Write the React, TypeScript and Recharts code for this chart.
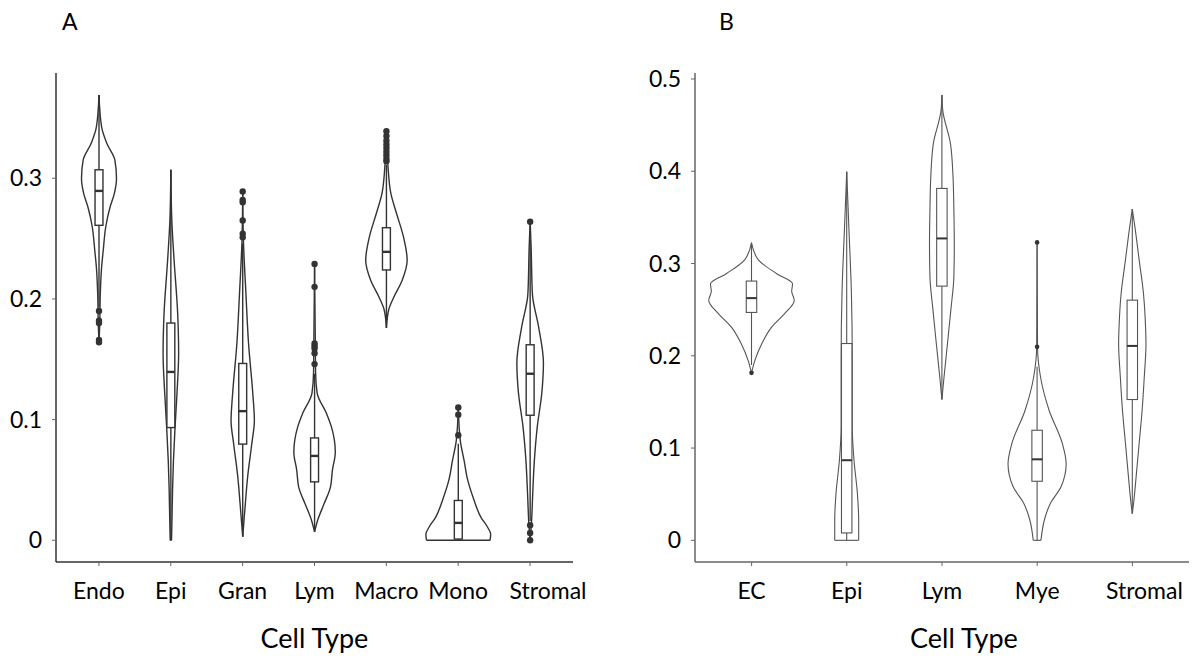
import React from 'react';
import { ComposedChart, Bar, XAxis, YAxis, Curve } from 'recharts';

// Panel A
const cellTypesA = ['Endo', 'Epi', 'Gran', 'Lym', 'Macro', 'Mono', 'Stromal'];
const q1A = [0.261, 0.0934, 0.0797, 0.0484, 0.224, 0.001, 0.1036];
const medianA = [0.2895, 0.1395, 0.107, 0.0699, 0.239, 0.0144, 0.138];
const q3A = [0.307, 0.18, 0.1465, 0.0848, 0.259, 0.033, 0.162];
const whiskerLowA = [0.193, 0, 0.003, 0.007, 0.176, 0, 0.016];
const whiskerHighA = [0.369, 0.307, 0.246, 0.138, 0.311, 0.08, 0.249];
const outliersA = [
  [0.19, 0.182, 0.18, 0.166, 0.164],
  [],
  [0.289, 0.282, 0.28, 0.265, 0.254, 0.251],
  [0.229, 0.21, 0.163, 0.161, 0.159, 0.155, 0.146],
  [0.339, 0.335, 0.331, 0.328, 0.325, 0.322, 0.319, 0.316, 0.314],
  [0.11, 0.104, 0.087],
  [0.264, 0.0124, 0.006, 0],
];
// violin outline: [value, relative density]
const violinsA: [number, number][][] = [
  [[0.369, 0], [0.3425, 0.08], [0.329, 0.24], [0.315, 0.49], [0.3, 0.54], [0.287, 0.47], [0.276, 0.34], [0.26, 0.21], [0.24, 0.13], [0.226, 0.08], [0.204, 0.04], [0.177, 0.02], [0.164, 0]],
  [[0.307, 0], [0.265, 0.03], [0.232, 0.1], [0.188, 0.21], [0.155, 0.24], [0.122, 0.19], [0.094, 0.13], [0.066, 0.08], [0.039, 0.05], [0.011, 0.03], [0, 0.02]],
  [[0.289, 0], [0.25, 0.02], [0.204, 0.1], [0.163, 0.18], [0.122, 0.31], [0.099, 0.36], [0.08, 0.28], [0.052, 0.15], [0.03, 0.08], [0.003, 0]],
  [[0.229, 0], [0.14, 0.03], [0.122, 0.08], [0.105, 0.37], [0.094, 0.52], [0.073, 0.64], [0.058, 0.55], [0.044, 0.49], [0.03, 0.29], [0.017, 0.1], [0.007, 0]],
  [[0.339, 0], [0.309, 0.05], [0.287, 0.14], [0.271, 0.31], [0.251, 0.53], [0.232, 0.64], [0.215, 0.48], [0.201, 0.22], [0.191, 0.07], [0.176, 0]],
  [[0.11, 0], [0.083, 0.06], [0.066, 0.18], [0.05, 0.29], [0.033, 0.49], [0.019, 0.7], [0.011, 0.9], [0.005, 1.0], [0, 0.98]],
  [[0.264, 0], [0.243, 0.03], [0.204, 0.07], [0.177, 0.26], [0.147, 0.41], [0.122, 0.36], [0.094, 0.22], [0.066, 0.13], [0.039, 0.08], [0.014, 0.04], [0, 0]],
];
const ticksA = [0, 0.1, 0.2, 0.3];

// Panel B
const cellTypesB = ['EC', 'Epi', 'Lym', 'Mye', 'Stromal'];
const q1B = [0.247, 0.008, 0.2755, 0.064, 0.1526];
const medianB = [0.2625, 0.0868, 0.3272, 0.0878, 0.2107];
const q3B = [0.281, 0.2133, 0.3814, 0.1193, 0.2603];
const whiskerLowB = [0.19, 0, 0.1526, 0, 0.029];
const whiskerHighB = [0.3225, 0.3995, 0.4826, 0.188, 0.359];
const outliersB = [[0.1815], [], [], [0.3229, 0.2097], []];
const violinsB: [number, number][][] = [
  [[0.3225, 0], [0.304, 0.16], [0.289, 0.59], [0.278, 0.96], [0.27, 0.94], [0.26, 1.0], [0.246, 0.78], [0.231, 0.47], [0.213, 0.24], [0.195, 0.08], [0.1815, 0]],
  [[0.3995, 0], [0.34, 0.05], [0.268, 0.11], [0.195, 0.13], [0.123, 0.13], [0.087, 0.17], [0.051, 0.25], [0.022, 0.28], [0, 0.28]],
  [[0.4826, 0], [0.466, 0.02], [0.43, 0.2], [0.394, 0.26], [0.358, 0.28], [0.322, 0.29], [0.286, 0.28], [0.25, 0.21], [0.213, 0.13], [0.177, 0.05], [0.1526, 0]],
  [[0.3229, 0], [0.21, 0.01], [0.177, 0.08], [0.141, 0.28], [0.105, 0.59], [0.083, 0.68], [0.058, 0.56], [0.04, 0.31], [0.022, 0.17], [0, 0.09]],
  [[0.359, 0], [0.34, 0.06], [0.304, 0.16], [0.268, 0.26], [0.231, 0.31], [0.213, 0.32], [0.177, 0.28], [0.141, 0.23], [0.105, 0.16], [0.069, 0.09], [0.04, 0.03], [0.029, 0]],
];
const ticksB = [0, 0.1, 0.2, 0.3, 0.4, 0.5];

const FONT = 'Lato, "Open Sans", sans-serif';

const buildRows = (
  names: string[], q1: number[], med: number[], q3: number[],
  wlo: number[], whi: number[], outs: number[][], violins: [number, number][][]
) =>
  names.map((name, i) => {
    const vals = [...violins[i].map((p) => p[0]), ...outs[i], wlo[i], whi[i]];
    return {
      name,
      range: [Math.min(...vals), Math.max(...vals)],
      q1: q1[i], median: med[i], q3: q3[i], wlo: wlo[i], whi: whi[i],
      outliers: outs[i], violin: violins[i],
    };
  });

const rowsA = buildRows(cellTypesA, q1A, medianA, q3A, whiskerLowA, whiskerHighA, outliersA, violinsA);
const rowsB = buildRows(cellTypesB, q1B, medianB, q3B, whiskerLowB, whiskerHighB, outliersB, violinsB);

type Look = { stroke: string; sw: number; medianSw: number; dot: string; dotR: number };

const ViolinShape = (props: any) => {
  const { x, y, width, height, payload, look } = props;
  const l: Look = look;
  const top = Math.min(y, y + height);
  const bottom = Math.max(y, y + height);
  const [lo, hi] = payload.range;
  const py = (v: number) => bottom - ((v - lo) / (hi - lo)) * (bottom - top);
  const cx = x + width / 2;
  const half = width * 0.45;
  const boxHalf = width * 0.055;
  const prof: [number, number][] = payload.violin;
  const right = prof.map(([v, d]) => ({ x: cx + d * half, y: py(v) }));
  const left = prof.map(([v, d]) => ({ x: cx - d * half, y: py(v) }));
  const last = prof[prof.length - 1];
  return (
    <g>
      <Curve type="monotoneY" points={right} stroke={l.stroke} strokeWidth={l.sw} fill="none" />
      <Curve type="monotoneY" points={left} stroke={l.stroke} strokeWidth={l.sw} fill="none" />
      {last[1] > 0 && (
        <line x1={cx - last[1] * half} x2={cx + last[1] * half} y1={py(last[0])} y2={py(last[0])} stroke={l.stroke} strokeWidth={l.sw} />
      )}
      <line x1={cx} x2={cx} y1={py(payload.whi)} y2={py(payload.q3)} stroke={l.stroke} strokeWidth={l.sw} />
      <line x1={cx} x2={cx} y1={py(payload.q1)} y2={py(payload.wlo)} stroke={l.stroke} strokeWidth={l.sw} />
      <rect x={cx - boxHalf} y={py(payload.q3)} width={boxHalf * 2} height={py(payload.q1) - py(payload.q3)} fill="#fff" stroke={l.stroke} strokeWidth={l.sw} />
      <line x1={cx - boxHalf} x2={cx + boxHalf} y1={py(payload.median)} y2={py(payload.median)} stroke="#333" strokeWidth={l.medianSw} />
      {payload.outliers.map((v: number, k: number) => (
        <circle key={k} cx={cx} cy={py(v)} r={l.dotR} fill={l.dot} />
      ))}
    </g>
  );
};

const lookA: Look = { stroke: '#333', sw: 1.4, medianSw: 2.4, dot: '#333', dotR: 3.2 };
const lookB: Look = { stroke: '#555', sw: 1.1, medianSw: 2, dot: '#333', dotR: 2.3 };

const tickStyle = { fill: '#000', fontSize: 23, fontFamily: FONT };

// the last label sits a little to the right of its tick in the original figure
const CatTick = (props: any) => {
  const { x, y, payload, shiftLast, count } = props;
  const dx = payload.index === count - 1 ? shiftLast : 0;
  return (
    <text x={x + dx} y={y} dy="0.71em" textAnchor="middle" fill="#000" fontSize={23} fontFamily={FONT}>
      {payload.value}
    </text>
  );
};

const Panel = ({ rows, ticks, domain, look, width, left, yWidth, marginRight, padX, axisColor, shiftLast, titleDx }: any) => (
  <div style={{ position: 'absolute', left, top: 0, width, height: 660 }}>
    <ComposedChart
      width={width}
      height={660}
      data={rows}
      margin={{ top: 73, right: marginRight, bottom: 0, left: 0 }}
      barCategoryGap="0%"
    >
      <XAxis
        dataKey="name"
        height={98}
        padding={{ left: padX, right: padX }}
        tickSize={4}
        tickMargin={17}
        tick={(p: any) => <CatTick {...p} shiftLast={shiftLast} count={rows.length} />}
        axisLine={{ stroke: axisColor, strokeWidth: 1.5 }}
        tickLine={{ stroke: '#666' }}
        label={{ value: 'Cell Type', position: 'insideBottom', offset: 12, dx: titleDx, fill: '#000', fontSize: 27, fontFamily: FONT }}
      />
      <YAxis
        type="number"
        width={yWidth}
        domain={domain}
        allowDataOverflow
        ticks={ticks}
        tickSize={4}
        tickMargin={10}
        tick={tickStyle}
        axisLine={{ stroke: axisColor, strokeWidth: 1.5 }}
        tickLine={{ stroke: '#666' }}
      />
      <Bar dataKey="range" isAnimationActive={false} shape={(p: any) => <ViolinShape {...p} look={look} />} />
    </ComposedChart>
  </div>
);

export default function App() {
  return (
    <div style={{ position: 'absolute', left: 0, top: 0, width: 1194, height: 660, background: '#fff', fontFamily: FONT }}>
      <div style={{ position: 'absolute', left: 62, top: 7, fontSize: 23, lineHeight: '28px' }}>A</div>
      <div style={{ position: 'absolute', left: 719, top: 7, fontSize: 23, lineHeight: '28px' }}>B</div>
      <Panel rows={rowsA} ticks={ticksA} domain={[-0.018, 0.3872]} look={lookA} width={600} left={0}
        yWidth={56} marginRight={27} padX={7} axisColor="#333" shiftLast={18} titleDx={0} />
      <Panel rows={rowsB} ticks={ticksB} domain={[-0.0235, 0.5065]} look={lookB} width={594} left={600}
        yWidth={95} marginRight={5} padX={9} axisColor="#666" shiftLast={12} titleDx={22} />
    </div>
  );
}
